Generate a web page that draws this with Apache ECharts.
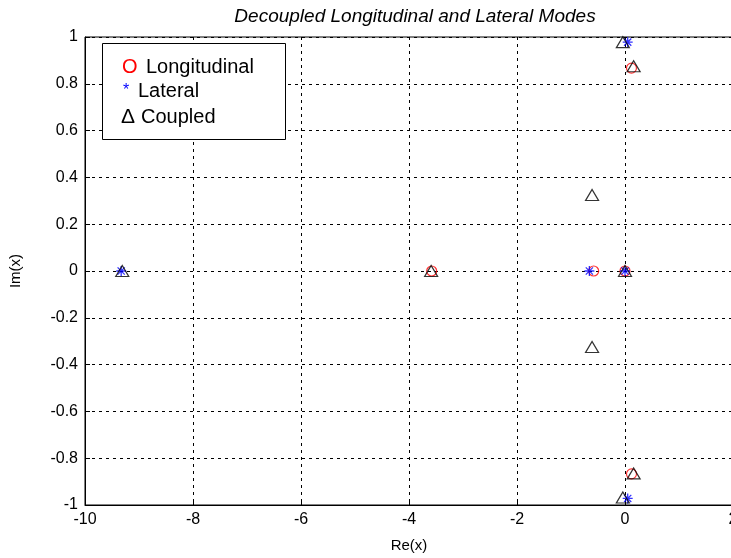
<!DOCTYPE html>
<html>
<head>
<meta charset="utf-8">
<script src="https://cdn.jsdelivr.net/npm/echarts@6/dist/echarts.min.js"></script>
<style>html,body{margin:0;padding:0;background:#fff;overflow:hidden}#c{width:731px;height:558px}</style>
</head>
<body>
<div id="c"></div>
<script>
var title = 'Decoupled Longitudinal and Lateral Modes';
var xTicks = [-10, -8, -6, -4, -2, 0, 2];
var yTicks = [-1, -0.8, -0.6, -0.4, -0.2, 0, 0.2, 0.4, 0.6, 0.8, 1];
var longRe = [-3.58, -0.58, 0, 0.12, 0.12];
var longIm = [0, 0, 0, 0.867, -0.867];
var latRe = [-9.33, -0.66, 0, 0.05, 0.05];
var latIm = [0, 0, 0, 0.978, -0.972];
var coupRe = [-9.31, -3.59, -0.61, -0.61, 0, 0.16, 0.16, -0.04, -0.04];
var coupIm = [0, 0, 0.325, -0.325, 0, 0.875, -0.865, 0.978, -0.968];

function pairs(a, b) { return a.map(function (v, i) { return [v, b[i]]; }); }
var font = '"Liberation Sans", Arial, sans-serif';
var star = 'path://M0,-5L0,5M-5,0L5,0M-3.6,-3.6L3.6,3.6M-3.6,3.6L3.6,-3.6';

var chart = echarts.init(document.getElementById('c'));
chart.setOption({
  animation: false,
  backgroundColor: '#fff',
  title: { text: title, left: 410, textAlign: 'center', top: 2,
    textStyle: { fontFamily: font, fontStyle: 'italic', fontWeight: 'normal', fontSize: 19, color: '#000' } },
  grid: { left: 85, right: -2, top: 37, bottom: 53, show: true, borderColor: '#000', borderWidth: 1,
    containLabel: false, outerBoundsMode: 'none' },
  xAxis: { type: 'value', min: xTicks[0], max: xTicks[xTicks.length - 1], interval: 2,
    name: 'Re(x)', nameLocation: 'middle', nameGap: 33,
    nameTextStyle: { fontFamily: font, fontSize: 15, color: '#000' },
    axisLine: { onZero: false, lineStyle: { color: '#000' } },
    axisTick: { inside: true, length: 5, lineStyle: { color: '#000' } },
    axisLabel: { fontFamily: font, fontSize: 16, color: '#000', margin: 7, hideOverlap: false,
      showMinLabel: true, showMaxLabel: true,
      formatter: function (v) { return xTicks.indexOf(v) >= 0 ? String(v) : ''; } },
    splitLine: { show: true, lineStyle: { color: '#000', type: [3, 4] } } },
  yAxis: { type: 'value', min: yTicks[0], max: yTicks[yTicks.length - 1], interval: 0.2,
    name: 'Im(x)', nameLocation: 'middle', nameGap: 62, nameRotate: 90,
    nameTextStyle: { fontFamily: font, fontSize: 15, color: '#000' },
    axisLine: { onZero: false, lineStyle: { color: '#000' } },
    axisTick: { inside: true, length: 5, lineStyle: { color: '#000' } },
    axisLabel: { fontFamily: font, fontSize: 16, color: '#000', margin: 7, hideOverlap: false,
      showMinLabel: true, showMaxLabel: true,
      formatter: function (v) { var r = Math.round(v * 10) / 10; return r === 0 ? '0' : String(r); } },
    splitLine: { show: true, lineStyle: { color: '#000', type: [3, 4] } } },
  series: [
    { name: 'Longitudinal', type: 'scatter', data: pairs(longRe, longIm), symbol: 'circle', symbolSize: 10,
      itemStyle: { color: 'rgba(0,0,0,0)', borderColor: '#ff0000', borderWidth: 1.2 }, z: 3 },
    { name: 'Lateral', type: 'scatter', data: pairs(latRe, latIm), symbol: star, symbolSize: 10,
      itemStyle: { color: 'rgba(0,0,0,0)', borderColor: '#0000ff', borderWidth: 1.3 }, z: 4 },
    { name: 'Coupled', type: 'scatter', data: pairs(coupRe, coupIm), symbol: 'triangle', symbolSize: [13, 11],
      itemStyle: { color: 'rgba(0,0,0,0)', borderColor: '#000', borderWidth: 1.2 }, z: 5 }
  ],
  graphic: [
    { type: 'rect', shape: { x: 102.5, y: 43.5, width: 183, height: 96 },
      style: { fill: '#fff', stroke: '#000', lineWidth: 1 }, z: 100 },
    { type: 'text', x: 122, y: 67, z: 101, style: { text: 'O', fill: '#ff0000', font: '20px ' + font, textVerticalAlign: 'middle' } },
    { type: 'text', x: 146, y: 67, z: 101, style: { text: 'Longitudinal', fill: '#000', font: '20px ' + font, textVerticalAlign: 'middle' } },
    { type: 'text', x: 123, y: 91, z: 101, style: { text: '*', fill: '#0000ff', font: '16px ' + font, textVerticalAlign: 'middle' } },
    { type: 'text', x: 138, y: 91, z: 101, style: { text: 'Lateral', fill: '#000', font: '20px ' + font, textVerticalAlign: 'middle' } },
    { type: 'text', x: 121, y: 117, z: 101, style: { text: 'Δ', fill: '#000', font: '21px ' + font, textVerticalAlign: 'middle' } },
    { type: 'text', x: 141, y: 117, z: 101, style: { text: 'Coupled', fill: '#000', font: '20px ' + font, textVerticalAlign: 'middle' } }
  ]
});
</script>
</body>
</html>
